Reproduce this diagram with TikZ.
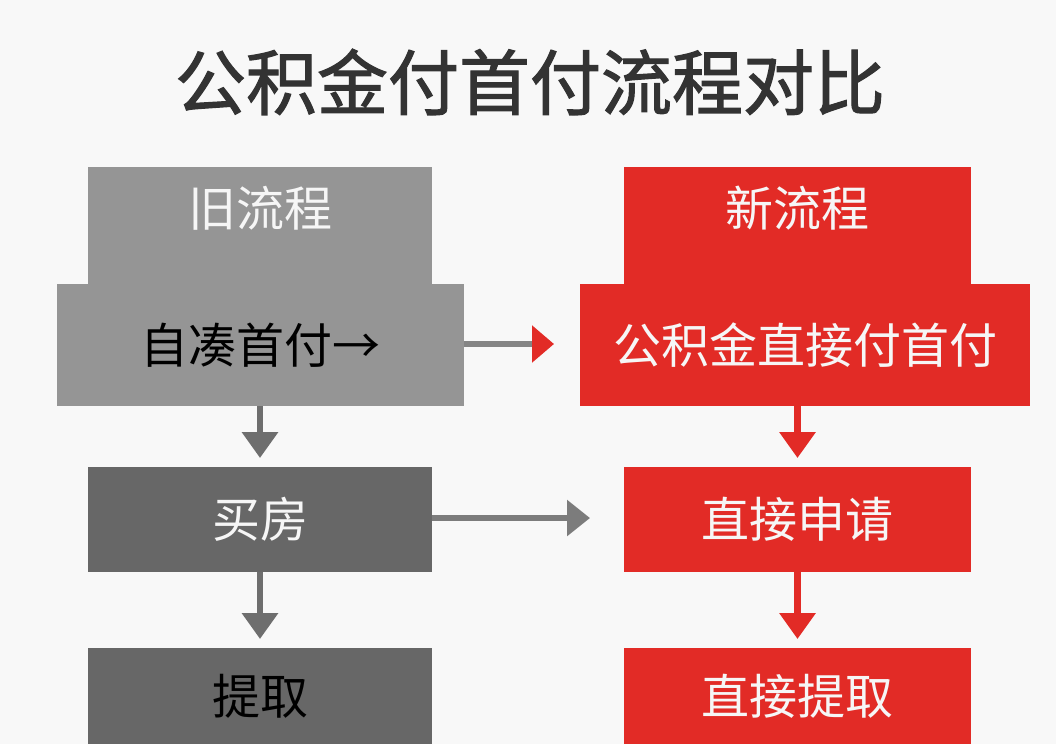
\documentclass[tikz,border=0pt]{standalone}
\usepackage{fontspec}
\newfontfamily\cjk{Noto Sans CJK SC}
\newfontfamily\cjkt[FakeBold=1.6]{Noto Sans CJK SC}
\usetikzlibrary{arrows.meta}
\definecolor{bgc}{HTML}{F8F8F8}
\definecolor{lgray}{HTML}{959595}
\definecolor{dgray}{HTML}{676767}
\definecolor{rd}{HTML}{E22B26}
\definecolor{titlec}{HTML}{333333}
\definecolor{agray}{HTML}{858585}
\definecolor{adgray}{HTML}{6E6E6E}
\definecolor{wtxt}{HTML}{F6F6F6}
\tikzset{
  box/.style={inner sep=0pt, outer sep=0pt, font=\cjk\fontsize{48}{52}\selectfont},
  oldbox/.style={box, fill=lgray},
  darkbox/.style={box, fill=dgray},
  redbox/.style={box, fill=rd, text=wtxt},
  hdtext/.style={inner sep=0pt, font=\cjk\fontsize{48}{52}\selectfont, text=wtxt},
  downarrow/.style={line width=6.5pt, -{Triangle[width=35pt,length=26pt]}, shorten >=9pt},
}
\begin{document}
\begin{tikzpicture}[x=1pt,y=-1pt]
\fill[bgc] (0,0) rectangle (1056,744);
\useasboundingbox (0,0) rectangle (1056,744);

\node[inner sep=0pt, font=\cjkt\fontsize{71}{76}\selectfont, text=titlec] (title) at (530,82) {公积金付首付流程对比};

% old process
\node[oldbox, minimum width=344pt, minimum height=118pt] (oldh) at (260,226) {};
\node[oldbox, minimum width=407pt, minimum height=122pt, text=black] (oldw) at (260.5,345) {自凑首付→};
\node[hdtext] (oldht) at (260,208) {旧流程};
\node[darkbox, minimum width=344pt, minimum height=105pt, text=wtxt] (oldb) at (260,519.5) {买房};
\node[darkbox, minimum width=344pt, minimum height=96pt, text=black] (oldt) at (260,696) {提取};

% new process
\node[redbox, minimum width=347pt, minimum height=118pt] (newh) at (797.5,226) {};
\node[redbox, minimum width=450pt, minimum height=122pt] (neww) at (805,345) {公积金直接付首付};
\node[hdtext] (newht) at (797.5,208) {新流程};
\node[redbox, minimum width=347pt, minimum height=105pt] (newb) at (797.5,519.5) {直接申请};
\node[redbox, minimum width=347pt, minimum height=96pt] (newt) at (797.5,696) {直接提取};

% down arrows
\draw[downarrow, adgray] (oldb.north |- oldw.south) -- (oldb.north);
\draw[downarrow, adgray] (oldb.south) -- (oldt.north);
\draw[downarrow, rd] (newb.north |- neww.south) -- (newb.north);
\draw[downarrow, rd] (newb.south) -- (newt.north);

% horizontal arrows
\coordinate (a1) at (554,344);
\coordinate (a2) at (590,518);
\draw[agray, line width=6pt, -{Triangle[width=36pt,length=22pt,color=rd]}] (oldw.east |- a1) -- (a1);
\draw[adgray!90!white, line width=6pt, -{Triangle[width=35pt,length=23pt]}] (oldb.east |- a2) -- (a2);
\end{tikzpicture}
\end{document}
